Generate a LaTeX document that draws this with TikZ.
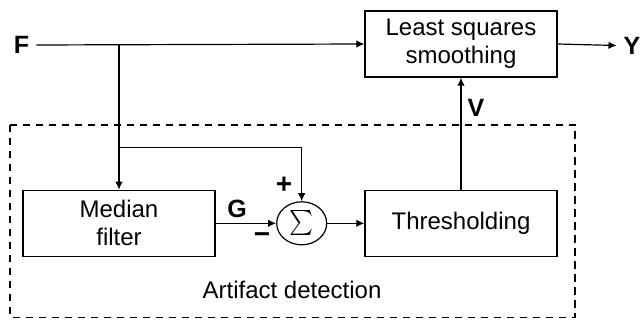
\documentclass[tikz,border=0pt]{standalone}
\usepackage{fontspec}
\setmainfont{Liberation Sans}
\usetikzlibrary{arrows.meta,shapes.geometric}
\begin{document}
\begin{tikzpicture}[x=1pt,y=-1pt,
  blk/.style={draw,line width=1.3pt,minimum width=192pt,minimum height=66pt,align=center,font=\fontsize{24}{28}\selectfont,inner sep=0pt},
  lbl/.style={font=\fontsize{25}{28}\selectfont\bfseries,inner sep=0pt},
  sgn/.style={font=\fontsize{28}{28}\selectfont\bfseries,inner sep=0pt},
  conn/.style={line width=1.2pt},
  arr/.style={conn,-{Latex[length=8pt,width=7.5pt]}}]
\useasboundingbox (0,0) rectangle (641,320);
\draw[line width=1.1pt,dash pattern=on 7.5pt off 5.5pt] (10,125) rectangle (575,317.5);
\node[blk] (ls) at (461,44) {Least squares\\smoothing};
\node[blk] (mf) at (119,223.3) {Median\\filter};
\node[blk] (th) at (461,223.3) {Thresholding};
\node[draw,ellipse,line width=1.2pt,minimum width=50pt,minimum height=43pt,inner sep=0pt] (sum) at (301.7,223.3) {\resizebox*{24pt}{25pt}{$\sum$}};
\node[lbl] (F) at (21.5,45) {F};
\node[lbl] (Y) at (632,45.5) {Y};
\node[lbl] (G) at (237,209) {G};
\node[lbl] (V) at (476,108) {V};
\node[sgn] (plus) at (284,185) {+};
\node[sgn] (minus) at (262,238) {−};
\node[font=\fontsize{24}{28}\selectfont,inner sep=0pt] (ad) at (292,290) {Artifact detection};
\coordinate (b1) at (119,45);
\coordinate (b2) at (119,147.3);
\draw[arr] ([xshift=7pt]F.east) -- (ls.west);
\draw[arr] (ls.east) -- ([xshift=-7pt]Y.west);
\draw[arr] (b1) -- (mf.north);
\draw[arr] (b2) -| (sum.north);
\draw[arr] (mf.east) -- (sum.west);
\draw[arr] (sum.east) -- (th.west);
\draw[arr] (th.north) -- (ls.south);
\end{tikzpicture}
\end{document}
